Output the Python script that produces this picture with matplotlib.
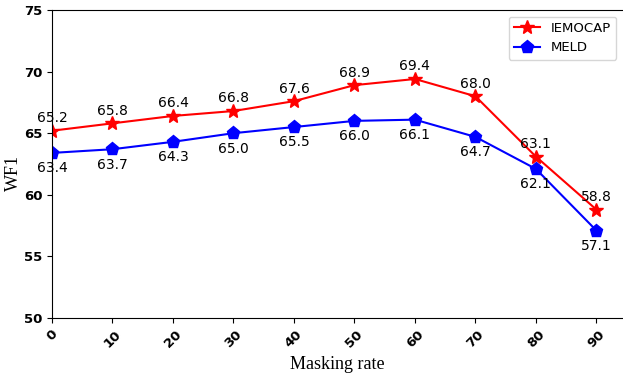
import matplotlib.pyplot as plt

rates = [0, 10, 20, 30, 40, 50, 60, 70, 80, 90]
iemocap = [65.2, 65.8, 66.4, 66.8, 67.6, 68.9, 69.4, 68.0, 63.1, 58.8]
meld = [63.4, 63.7, 64.3, 65.0, 65.5, 66.0, 66.1, 64.7, 62.1, 57.1]

fig = plt.figure(figsize=(6.23, 3.75), dpi=100)
ax = fig.add_axes([52/623, 57/375, 571/623, 308/375])

ax.plot(rates, iemocap, color='red', marker='*', markersize=10, label='IEMOCAP')
ax.plot(rates, meld, color='blue', marker='p', markersize=9.5, label='MELD')

for x, y in zip(rates, iemocap):
	ax.annotate('%.1f' % y, (x, y), textcoords='offset points', xytext=(0, 4),
		ha='center', va='bottom', fontsize=10)
for x, y in zip(rates, meld):
	ax.annotate('%.1f' % y, (x, y), textcoords='offset points', xytext=(0, -6),
		ha='center', va='top', fontsize=10)

ax.set_xlim(0, 94.4)
ax.set_ylim(50, 75)
ax.set_xticks(rates)
ax.set_yticks([50, 55, 60, 65, 70, 75])
for lab in ax.get_xticklabels():
	lab.set_rotation(45)
	lab.set_fontweight('bold')
for lab in ax.get_yticklabels():
	lab.set_fontweight('bold')
ax.tick_params(labelsize=9.5)
ax.spines['right'].set_visible(False)

ax.set_xlabel('Masking rate', family='Liberation Serif', fontsize=13)
ax.set_ylabel('WF1', family='Liberation Serif', fontsize=13)
ax.yaxis.set_label_coords(-0.052, 0.47)
ax.legend(loc='upper right', fontsize=9.5)

fig.savefig('out.png', dpi=100)
